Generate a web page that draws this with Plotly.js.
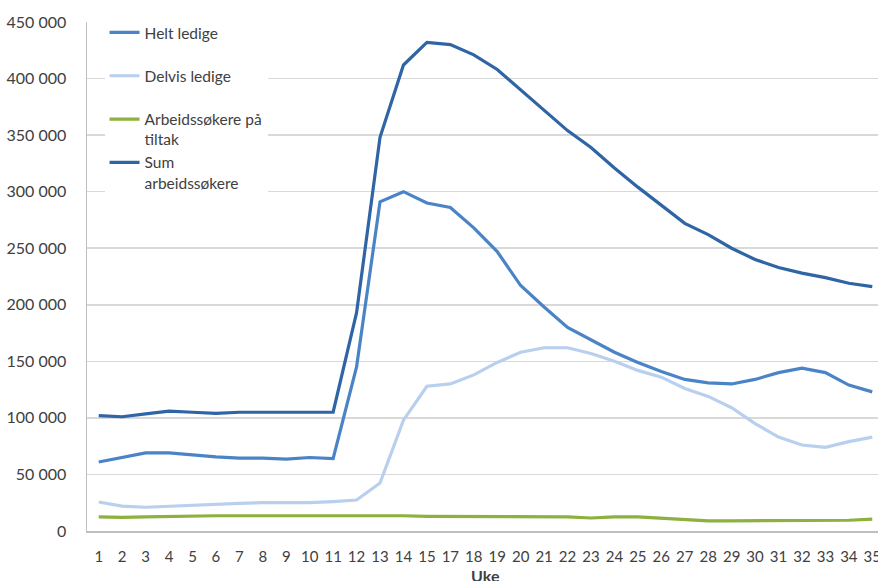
<!DOCTYPE html>
<html>
<head>
<meta charset="utf-8">
<script src="https://cdn.plot.ly/plotly-3.0.1.min.js"></script>
<style>
html,body{margin:0;padding:0;overflow:hidden;background:#fff;}
#chart{width:886px;height:581px;}
</style>
</head>
<body>
<div id="chart"></div>
<script>
const weeks = ['1','2','3','4','5','6','7','8','9','10','11','12','13','14','15','17','18','19','20','21','22','23','24','25','26','27','28','29','30','31','32','33','34','35'];

const heltLedige = [61000,65000,69000,69000,67000,65500,64500,64500,63500,65000,64000,145000,291000,300000,290000,286000,268000,247000,217000,198000,180000,169000,158000,149000,141000,134000,131000,130000,134000,140000,144000,140000,129000,123000];

const delvisLedige = [25600,22000,21000,22000,22500,23500,24500,25000,25000,25000,26000,27400,42400,98000,128000,130000,138000,149000,158000,162000,162000,157000,150000,142000,136000,126000,119000,109000,95000,83000,76000,74000,79000,83000];

const tiltak = [12500,12000,12500,13000,13500,13500,13500,13500,14000,14000,14000,14000,13500,13500,13000,13000,13000,12500,12500,12500,12500,11500,12500,12500,11500,10500,9000,9000,9000,9000,9000,9000,9500,10500];

const sumSokere = [102000,101000,103500,106000,105000,104000,105000,105000,105000,105000,105000,193000,348000,412000,432000,430000,421000,408000,390000,372000,354000,339000,321000,304000,288000,272000,262000,250000,240000,233000,228000,224000,219000,216000];

const seriesNames = ['Helt ledige<br>&nbsp;', 'Delvis ledige<br>&nbsp;', 'Arbeidssøkere på<br>tiltak', 'Sum<br>arbeidssøkere'];
const xTitle = 'Uke';

const FONT = 'Lato, "Open Sans", sans-serif';

function tr(y, name, color) {
  return {
    type: 'scatter', mode: 'lines', x: weeks, y: y, name: name,
    line: {color: color, width: 3.2},
    hoverinfo: 'x+y'
  };
}

const data = [
  tr(heltLedige, seriesNames[0], '#4a84c6'),
  tr(delvisLedige, seriesNames[1], '#b8d0ee'),
  tr(tiltak, seriesNames[2], '#8db03e'),
  tr(sumSokere, seriesNames[3], '#2f64a5')
];

const layout = {
  width: 886, height: 581,
  margin: {l: 87, r: 2, t: 22, b: 50},
  paper_bgcolor: '#ffffff', plot_bgcolor: '#ffffff',
  separators: ', ',
  font: {family: FONT, size: 16, color: '#404040'},
  showlegend: true,
  legend: {
    x: 0.022, y: 1.012, xanchor: 'left', yanchor: 'top',
    bgcolor: '#ffffff', borderwidth: 0,
    font: {family: FONT, size: 15.5, color: '#404040'},
    valign: 'top', traceorder: 'normal'
  },
  xaxis: {
    type: 'category', range: [-0.5, 33.5], dtick: 1, tickangle: 0,
    showgrid: false, zeroline: false,
    showline: true, linecolor: '#bfbfbf', linewidth: 2,
    ticks: '', ticklabelstandoff: 11,
    tickfont: {family: FONT, size: 15, color: '#404040'},
    automargin: false
  },
  yaxis: {
    range: [0, 450000], dtick: 50000, tick0: 0, tickformat: ',d',
    showgrid: true, gridcolor: '#d9d9d9', gridwidth: 1.5,
    zeroline: false, showline: true, linecolor: '#bfbfbf', linewidth: 1.5,
    ticks: '', ticklabelstandoff: 16,
    tickfont: {family: FONT, size: 16, color: '#404040'},
    automargin: false
  },
  annotations: [{
    text: '<b>' + xTitle + '</b>', xref: 'paper', yref: 'paper',
    x: 0.5, y: -0.088, xanchor: 'center', yanchor: 'middle',
    showarrow: false, font: {family: FONT, size: 16, color: '#404040'}
  }]
};

Plotly.newPlot('chart', data, layout, {displayModeBar: false, staticPlot: true});
</script>
</body>
</html>
